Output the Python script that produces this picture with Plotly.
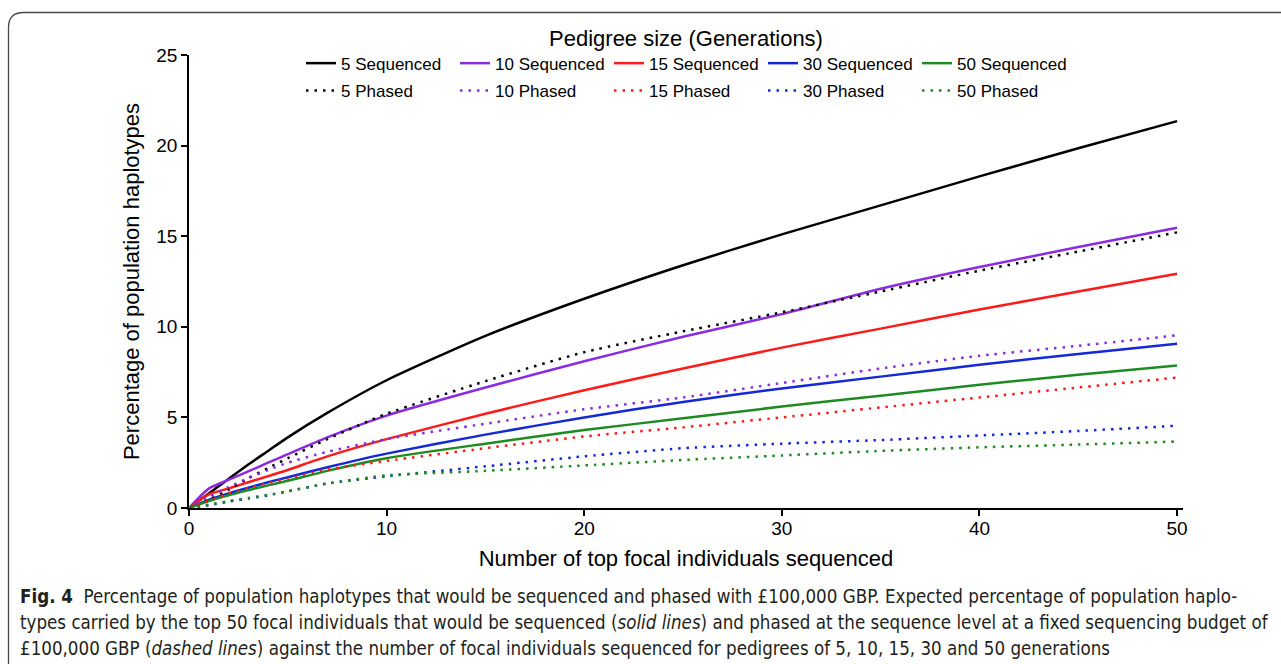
import plotly.graph_objects as go

# ---- data ----
focal_n = [0, 1, 2, 3, 4, 5, 7, 10, 15, 20, 25, 30, 35, 40, 45, 50]

seq_5 = [0, 0.8, 1.6, 2.4, 3.15, 3.9, 5.25, 7.05, 9.5, 11.55, 13.4, 15.1, 16.7, 18.3, 19.85, 21.35]
seq_10 = [0, 1.07, 1.55, 2.02, 2.5, 2.97, 3.9, 5.1, 6.65, 8.1, 9.45, 10.7, 12.1, 13.3, 14.4, 15.47]
seq_15 = [0, 0.75, 1.08, 1.42, 1.76, 2.1, 2.85, 3.8, 5.2, 6.5, 7.7, 8.85, 9.9, 10.95, 11.95, 12.93]
seq_30 = [0, 0.45, 0.8, 1.12, 1.42, 1.7, 2.25, 3.0, 4.05, 5.0, 5.85, 6.6, 7.25, 7.9, 8.5, 9.07]
seq_50 = [0, 0.38, 0.7, 0.98, 1.25, 1.5, 2.05, 2.75, 3.55, 4.3, 4.95, 5.6, 6.2, 6.8, 7.35, 7.86]

phs_5 = [0, 0.45, 1.0, 1.65, 2.2, 2.75, 3.8, 5.2, 7.0, 8.6, 9.75, 10.8, 11.95, 13.1, 14.15, 15.21]
phs_10 = [0, 0.6, 1.15, 1.65, 2.1, 2.5, 3.1, 3.8, 4.65, 5.45, 6.1, 6.9, 7.7, 8.4, 8.95, 9.53]
phs_15 = [0, 0.4, 0.8, 1.1, 1.38, 1.62, 2.12, 2.6, 3.3, 3.95, 4.45, 5.0, 5.55, 6.1, 6.65, 7.2]
phs_30 = [0, 0.15, 0.35, 0.52, 0.7, 0.92, 1.35, 1.75, 2.3, 2.85, 3.3, 3.55, 3.75, 4.0, 4.25, 4.54]
phs_50 = [0, 0.18, 0.38, 0.55, 0.72, 0.92, 1.35, 1.8, 2.05, 2.35, 2.65, 2.9, 3.15, 3.35, 3.5, 3.67]

generations = ["5", "10", "15", "30", "50"]
colors = ["#000000", "#8A2BE2", "#FF1A1A", "#1428D8", "#1E8B22"]
x_ticks = [0, 10, 20, 30, 40, 50]
y_ticks = [0, 5, 10, 15, 20, 25]

caption_lines = [
    "<b>Fig. 4</b>  Percentage of population haplotypes that would be sequenced and phased with £100,000 GBP. Expected percentage of population haplo-",
    "types carried by the top 50 focal individuals that would be sequenced (<i>solid lines</i>) and phased at the sequence level at a fixed sequencing budget of",
    "£100,000 GBP (<i>dashed lines</i>) against the number of focal individuals sequenced for pedigrees of 5, 10, 15, 30 and 50 generations",
]

seq_all = [seq_5, seq_10, seq_15, seq_30, seq_50]
phs_all = [phs_5, phs_10, phs_15, phs_30, phs_50]

# ---- layout geometry (pixels) ----
W, H = 1281, 664
L, R, T, B = 189, 98, 55, 156
PW, PH = W - L - R, H - T - B


def px(x):
    return (x - L) / PW


def py(y):
    return (H - B - y) / PH


fig = go.Figure()
for g, c, ys in zip(generations, colors, seq_all):
    fig.add_trace(go.Scatter(
        x=focal_n, y=ys, mode="lines", name=f"{g} Sequenced",
        line=dict(color=c, width=2.5, shape="spline", smoothing=0.6),
        legend="legend",
    ))
for g, c, ys in zip(generations, colors, phs_all):
    fig.add_trace(go.Scatter(
        x=focal_n, y=ys, mode="lines", name=f"{g} Phased",
        line=dict(color=c, width=2.5, dash="2.5px,6px", shape="spline", smoothing=0.6),
        legend="legend2",
    ))

font_main = "Liberation Sans, Arial, sans-serif"
cap_font = "DejaVu Sans Condensed, Liberation Sans Narrow, sans-serif"

legend_common = dict(
    orientation="h", xanchor="left", yanchor="top",
    entrywidth=109, entrywidthmode="pixels", itemwidth=30,
    font=dict(size=17), bgcolor="rgba(0,0,0,0)", itemclick=False,
)

fig.update_layout(
    width=W, height=H,
    margin=dict(l=L, r=R, t=T, b=B, pad=0, autoexpand=False),
    paper_bgcolor="white", plot_bgcolor="white",
    font=dict(family=font_main, color="#000000"),
    showlegend=True,
    xaxis=dict(
        range=[0, 50.3], tickvals=x_ticks, showline=True, linecolor="#000",
        linewidth=1.5, ticks="outside", ticklen=6, tickwidth=1.5, tickcolor="#000",
        showgrid=False, zeroline=False, tickfont=dict(size=19, family=font_main),
        ticklabelstandoff=-4, automargin=False,
        title=dict(text="Number of top focal individuals sequenced", font=dict(size=22), standoff=13),
    ),
    yaxis=dict(
        range=[0, 25], tickvals=y_ticks, showline=True, linecolor="#000",
        linewidth=1.5, ticks="outside", ticklen=6, tickwidth=1.5, tickcolor="#000",
        showgrid=False, zeroline=False, tickfont=dict(size=19, family=font_main),
        automargin=False,
        title=dict(text="Percentage of population haplotypes", font=dict(size=22), standoff=11),
    ),
    legend=dict(
        x=px(301), y=py(17),
        title=dict(text="Pedigree size (Generations)", side="top center", font=dict(size=22)),
        **legend_common,
    ),
    legend2=dict(x=px(301), y=py(73), **legend_common),
)

# frame around the figure
frame = (f"M {px(8.5)},{py(700)} L {px(8.5)},{py(27.5)} "
         f"Q {px(8.5)},{py(12.5)} {px(23.5)},{py(12.5)} L {px(1300)},{py(12.5)}")
fig.add_shape(type="path", path=frame, xref="paper", yref="paper",
              line=dict(color="#4a4a4a", width=1.3))

for i, line in enumerate(caption_lines):
    fig.add_annotation(
        text=line, xref="paper", yref="paper", x=px(18), y=py(596 + 26 * i),
        xanchor="left", yanchor="middle", showarrow=False,
        font=dict(family=cap_font, size=18.6, color="#231f20"),
    )

fig.write_html("out.html", config={"displayModeBar": False},
               post_script="document.body.style.margin='0px';")
